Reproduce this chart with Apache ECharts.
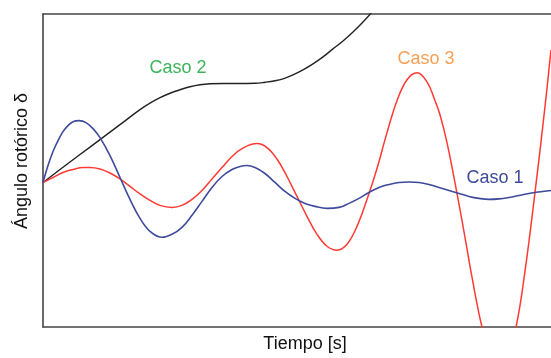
<!DOCTYPE html>
<html>
<head>
<meta charset="utf-8">
<script src="https://cdn.jsdelivr.net/npm/echarts@6/dist/echarts.min.js"></script>
<style>
  html, body { margin: 0; padding: 0; background: #ffffff; }
  #chart { width: 551px; height: 358px; }
</style>
</head>
<body>
<div id="chart"></div>
<script>
// Rotor angle response (arbitrary units) for three cases: [time, delta]
const caso1 = [
  [0, 0], [5, 17], [10, 31], [15, 42], [20, 51], [25, 57], [30, 61], [36, 62],
  [43, 60], [50, 54], [57, 45], [67, 27], [77, 5], [87, -17], [97, -36], [107, -49],
  [119, -55], [129, -52], [139, -45], [149, -33], [159, -19], [169, -5], [179, 6],
  [189, 13], [197, 16], [204, 17], [212, 15], [222, 9], [232, 0], [242, -9],
  [252, -16], [262, -21], [272, -24], [284, -26], [296, -25], [306, -21], [316, -16],
  [326, -10], [336, -5], [346, -2], [356, 0], [366, 0.5], [376, 0], [386, -2],
  [396, -5], [406, -8], [416, -11], [426, -14], [436, -16], [446, -17], [456, -16.5],
  [466, -15], [476, -13], [486, -11], [496, -9.5], [508, -8]
];
const caso2 = [
  [0, 0], [17, 13], [37, 28], [57, 43], [77, 58], [97, 73], [107, 79.5], [117, 85],
  [127, 89.5], [137, 93], [147, 96], [157, 98], [167, 99], [180, 99.3], [195, 99.3],
  [212, 99.5], [222, 100.5], [232, 102], [240, 104], [250, 108], [260, 113],
  [270, 119], [280, 126], [290, 134], [300, 142], [310, 151], [320, 161],
  [330, 172], [340, 184]
];
const caso3 = [
  [0, 0], [10, 5], [20, 10], [30, 13], [40, 15], [47, 15], [57, 13.5], [67, 9.5],
  [77, 3.5], [87, -4], [97, -11.5], [107, -18], [117, -23], [129, -25], [139, -23],
  [149, -17], [159, -8], [169, 3.5], [179, 15], [189, 26], [199, 34], [214, 39],
  [224, 35], [234, 23.5], [244, 6], [254, -14], [264, -34], [274, -52], [284, -64],
  [294, -68], [304, -62], [314, -44], [324, -17], [334, 14], [344, 50], [354, 82],
  [364, 103], [374, 110], [384, 101], [392, 82], [397, 68], [404, 40], [414, -11],
  [422, -55], [429, -95], [439, -145], [447, -170], [456, -179], [465, -169],
  [473, -145], [482, -89], [492, -10], [502, 76], [508, 133]
];
const seriesNames = ['Caso 1', 'Caso 2', 'Caso 3'];
// label anchor points in data units
const labelAt = { 'Caso 1': [452, 4], 'Caso 2': [135, 115], 'Caso 3': [383, 124] };

const FONT = '"Liberation Sans", Arial, sans-serif';
const axisLineStyle = { color: '#444', width: 1.6 };

function caseLabel(name, color) {
  return {
    symbol: 'circle', symbolSize: 0, silent: true,
    data: [{
      coord: labelAt[name],
      label: {
        show: true, position: 'inside', formatter: name,
        color: color, fontSize: 18, fontFamily: FONT
      }
    }]
  };
}

const chart = echarts.init(document.getElementById('chart'), null, { renderer: 'canvas' });
chart.setOption({
  animation: false,
  backgroundColor: '#ffffff',
  grid: { left: 43, right: 0, top: 14, bottom: 30 },
  xAxis: [{
    type: 'value', min: 0, max: 508, position: 'bottom',
    name: 'Tiempo [s]', nameLocation: 'middle', nameGap: 8,
    nameTextStyle: { color: '#111', fontSize: 18, fontFamily: FONT, padding: [0, 0, 0, 16] },
    axisLine: { show: true, onZero: false, lineStyle: axisLineStyle },
    axisTick: { show: false }, axisLabel: { show: false }, splitLine: { show: false }
  }, {
    type: 'value', min: 0, max: 508, position: 'top',
    axisLine: { show: true, onZero: false, lineStyle: axisLineStyle },
    axisTick: { show: false }, axisLabel: { show: false }, splitLine: { show: false }
  }],
  yAxis: {
    type: 'value', min: -145, max: 169,
    name: 'Ángulo rotórico δ', nameLocation: 'middle', nameGap: 12,
    nameTextStyle: { color: '#111', fontSize: 18, fontFamily: FONT, padding: [0, 0, 0, 19] },
    axisLine: { show: true, onZero: false, lineStyle: axisLineStyle },
    axisTick: { show: false }, axisLabel: { show: false }, splitLine: { show: false }
  },
  series: [
    {
      name: seriesNames[1], type: 'line', data: caso2, smooth: 0.4, showSymbol: false,
      clip: true, lineStyle: { color: '#222222', width: 1.4 },
      markPoint: caseLabel('Caso 2', '#3cb45a')
    },
    {
      name: seriesNames[2], type: 'line', data: caso3, smooth: 0.4, showSymbol: false,
      clip: true, lineStyle: { color: '#ff3a33', width: 1.5 },
      markPoint: caseLabel('Caso 3', '#f7a056')
    },
    {
      name: seriesNames[0], type: 'line', data: caso1, smooth: 0.4, showSymbol: false,
      clip: true, lineStyle: { color: '#3e4a9c', width: 1.6 },
      markPoint: caseLabel('Caso 1', '#3e4a9c')
    }
  ]
});
</script>
</body>
</html>
